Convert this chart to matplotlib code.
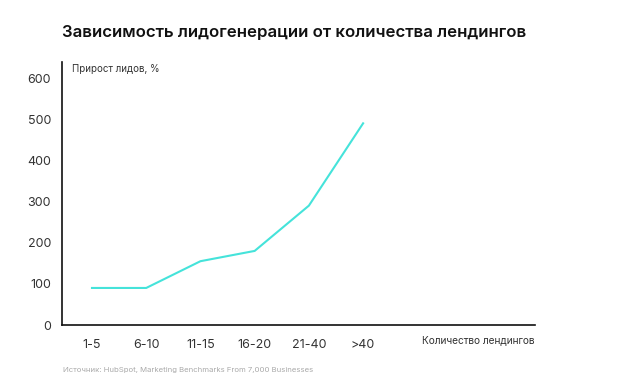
import matplotlib
matplotlib.use("Agg")
import matplotlib.pyplot as plt

categories = ["1-5", "6-10", "11-15", "16-20", "21-40", ">40"]
lead_growth = [90, 90, 155, 180, 290, 490]
y_ticks = [0, 100, 200, 300, 400, 500, 600]

title = "Зависимость лидогенерации от количества лендингов"
y_label = "Прирост лидов, %"
x_label = "Количество лендингов"
source = "Источник: HubSpot, Marketing Benchmarks From 7,000 Businesses"

plt.rcParams['font.family'] = ['Inter', 'DejaVu Sans']

fig = plt.figure(figsize=(6.24, 3.87), dpi=100)
ax = fig.add_axes([62/624, 1-325/387, (535-62)/624, (325-62)/387])

x = list(range(len(categories)))
ax.plot(x, lead_growth, color="#45E3DA", linewidth=1.5, solid_joinstyle='miter')

ax.set_xlim(-0.553, 8.17)
ax.set_ylim(0, 639)
ax.set_xticks(x)
ax.set_xticklabels(categories)
ax.set_yticks(y_ticks)
ax.tick_params(axis='both', length=0, labelsize=9, colors="#333333")
ax.tick_params(axis='x', pad=10)
ax.tick_params(axis='y', pad=8)

for s in ['top', 'right']:
    ax.spines[s].set_visible(False)
for s in ['left', 'bottom']:
    ax.spines[s].set_color("#111111")
    ax.spines[s].set_linewidth(1.2)

fig.text(62/624, 1-32/387, title, fontsize=12.1, fontweight='semibold',
         color="#111111", ha='left', va='center')
fig.text(72/624, 1-69/387, y_label, fontsize=7, color="#333333",
         ha='left', va='center')
fig.text(535/624, 1-340/387, x_label, fontsize=7.3, color="#333333",
         ha='right', va='center')
fig.text(63/624, 1-370/387, source, fontsize=5.6, color="#AAAAAA",
         ha='left', va='center')

fig.savefig("out.png", dpi=100, facecolor="white")
